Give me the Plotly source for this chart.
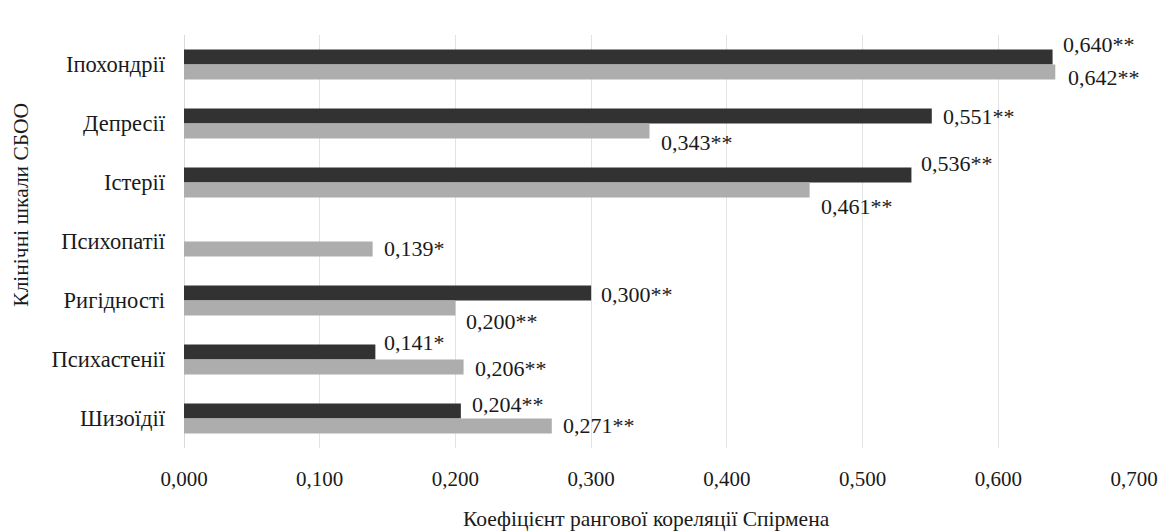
import plotly.graph_objects as go

categories = ["Іпохондрії", "Депресії", "Істерії", "Психопатії", "Ригідності", "Психастенії", "Шизоїдії"]
series_dark = [0.640, 0.551, 0.536, None, 0.300, 0.141, 0.204]
labels_dark = ["0,640**", "0,551**", "0,536**", "", "0,300**", "0,141*", "0,204**"]
series_gray = [0.642, 0.343, 0.461, 0.139, 0.200, 0.206, 0.271]
labels_gray = ["0,642**", "0,343**", "0,461**", "0,139*", "0,200**", "0,206**", "0,271**"]
tick_vals = [0, 0.1, 0.2, 0.3, 0.4, 0.5, 0.6, 0.7]
tick_text = ["0,000", "0,100", "0,200", "0,300", "0,400", "0,500", "0,600", "0,700"]

# label vertical offsets (px, positive = downward) relative to each bar centre
dy_dark = [-12.5, 0, -11.5, 0, 1.5, -10, -7]
dy_gray = [5.5, 12, 17, 0, 13.5, 1.5, 0]
# label horizontal gaps (px) after the bar end
dx_dark = [8, 9, 8, 0, 8, 7, 9]
dx_gray = [11, 9, 9, 9, 9, 9, 9]

FONT = "serif"
DARK = "#323232"
GRAY = "#adadad"
TXT = "#1a1a1a"

fig = go.Figure()
fig.add_trace(go.Bar(y=categories, x=series_dark, orientation="h", marker_color=DARK,
                     marker_line_width=0, name="dark", showlegend=False))
fig.add_trace(go.Bar(y=categories, x=series_gray, orientation="h", marker_color=GRAY,
                     marker_line_width=0, name="gray", showlegend=False))

BAR_HALF = 7.4
annotations = []
for i, c in enumerate(categories):
    if series_dark[i] is not None:
        annotations.append(dict(x=series_dark[i], y=c, text=labels_dark[i], showarrow=False,
                                xanchor="left", yanchor="middle", xshift=dx_dark[i],
                                yshift=BAR_HALF - dy_dark[i],
                                font=dict(family=FONT, size=22, color=TXT)))
    annotations.append(dict(x=series_gray[i], y=c, text=labels_gray[i], showarrow=False,
                            xanchor="left", yanchor="middle", xshift=dx_gray[i],
                            yshift=-BAR_HALF - dy_gray[i],
                            font=dict(family=FONT, size=22, color=TXT)))

annotations.append(dict(x=0.487, xref="paper", y=-0.171, yref="paper",
                        xanchor="center", yanchor="middle",
                        text="Коефіцієнт рангової кореляції Спірмена", showarrow=False,
                        font=dict(family=FONT, size=21.5, color=TXT)))
annotations.append(dict(x=-0.171, xref="paper", y=0.588, yref="paper", textangle=-90,
                        xanchor="center", yanchor="middle",
                        text="Клінічні шкали СБОО", showarrow=False,
                        font=dict(family=FONT, size=21.5, color=TXT)))

fig.update_layout(
    width=1163, height=531,
    margin=dict(l=184, r=29, t=35, b=83, autoexpand=False),
    barmode="group", bargap=0.49, bargroupgap=0,
    plot_bgcolor="white", paper_bgcolor="white",
    font=dict(family=FONT, size=21, color=TXT),
    annotations=annotations,
)
fig.update_xaxes(range=[0, 0.7], tickvals=tick_vals, ticktext=tick_text, automargin=False,
                 showgrid=True, gridcolor="#e3e3e3", gridwidth=1, zeroline=True,
                 zerolinecolor="#d9d9d9", zerolinewidth=1, showline=False, ticks="",
                 ticklabelstandoff=16, tickfont=dict(size=21, family=FONT))
fig.update_yaxes(autorange="reversed", showgrid=False, ticks="", showline=False, automargin=False,
                 ticklabelstandoff=18, tickfont=dict(size=22.5, family=FONT))

fig.write_html("out.html", post_script="document.body.style.margin='0';",
               config={"displayModeBar": False})
